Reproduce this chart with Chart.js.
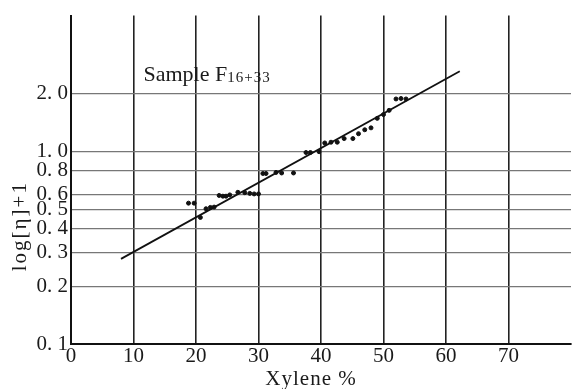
<!DOCTYPE html>
<html>
<head>
<meta charset="utf-8">
<script src="https://cdn.jsdelivr.net/npm/chart.js@4.4.1/dist/chart.umd.min.js"></script>
<style>
  body { margin: 0; background: #fff; }
  #wrap { width: 574px; height: 389px; }
</style>
</head>
<body>
<div id="wrap"><canvas id="viscChart" width="574" height="389"></canvas></div>
<script>
// measured points (xylene %, log[eta]+1)
var xylene = [18.8, 19.7, 20.7, 21.6, 22.3, 22.9, 23.7, 24.3, 24.8, 25.4, 26.7, 27.8, 28.6, 29.3, 30.0,
              30.7, 31.2, 32.8, 33.7, 35.6, 37.6, 38.3, 39.7, 40.6, 41.6, 42.6, 43.7, 45.1, 46.0, 47.0,
              48.0, 49.0, 50.0, 50.9, 52.0, 52.8, 53.6];
var viscosity = [0.54, 0.54, 0.455, 0.505, 0.513, 0.515, 0.592, 0.587, 0.587, 0.596, 0.615, 0.612, 0.607, 0.603, 0.603,
                 0.77, 0.77, 0.78, 0.775, 0.775, 0.99, 0.99, 1.0, 1.11, 1.12, 1.12, 1.17, 1.17, 1.24, 1.30,
                 1.33, 1.49, 1.56, 1.64, 1.88, 1.89, 1.88];

// straight fitted line, end points
var fitX = [8.0, 62.2];
var fitY = [0.277, 2.62];

var yTickValues = [0.1, 0.2, 0.3, 0.4, 0.5, 0.6, 0.8, 1.0, 2.0];
var xTickMaxLabel = 70;

var serif = "'Liberation Serif', 'DejaVu Serif', serif";

var textPlugin = {
    id: 'oldPrintText',
    afterDraw: function(chart) {
        var ctx = chart.ctx;
        var xs = chart.scales.x, ys = chart.scales.y;
        ctx.save();
        ctx.fillStyle = '#1a1a1a';

        // sample label
        var sx = xs.getPixelForValue(11.6), sy = ys.getPixelForValue(2.32);
        ctx.font = '22px ' + serif;
        ctx.textAlign = 'left';
        ctx.textBaseline = 'alphabetic';
        ctx.fillText('Sample F', sx, sy);
        var w = ctx.measureText('Sample F').width;
        ctx.font = '15px ' + serif;
        ctx.letterSpacing = '1px';
        ctx.fillText('16+33', sx + w, sy + 1);
        ctx.letterSpacing = '0px';

        // x title
        ctx.font = '21px ' + serif;
        ctx.textAlign = 'center';
        ctx.textBaseline = 'middle';
        ctx.letterSpacing = '1px';
        ctx.fillText('Xylene %', xs.getPixelForValue(38.4), 379);

        // y title
        ctx.translate(20, ys.getPixelForValue(0.41));
        ctx.rotate(-Math.PI / 2);
        ctx.font = '21px ' + serif;
        ctx.letterSpacing = '2px';
        ctx.fillText('log[\u03b7]+1', 0, 0);
        ctx.restore();
    }
};

var ctx = document.getElementById('viscChart').getContext('2d');
var pts = xylene.map(function(x, i) { return { x: x, y: viscosity[i] }; });
var fit = fitX.map(function(x, i) { return { x: x, y: fitY[i] }; });

var viscChart = new Chart(ctx, {
    type: 'scatter',
    data: {
        datasets: [{
            label: 'data',
            data: pts,
            backgroundColor: '#111',
            borderColor: '#111',
            pointRadius: 2,
            pointHoverRadius: 2
        }, {
            label: 'fit',
            data: fit,
            showLine: true,
            borderColor: '#111',
            borderWidth: 1.8,
            pointRadius: 0,
            fill: false
        }]
    },
    options: {
        responsive: false,
        animation: false,
        layout: { padding: { top: 13, right: 0, left: 0, bottom: 0 } },
        plugins: {
            legend: { display: false },
            tooltip: { enabled: false }
        },
        scales: {
            x: {
                type: 'linear',
                min: 0,
                max: 80,
                afterFit: function(scale) { scale.height = 45; },
                grid: {
                    drawTicks: false,
                    color: function(c) { return c.tick && c.tick.value > xTickMaxLabel ? 'rgba(0,0,0,0)' : '#222'; },
                    lineWidth: 1.6
                },
                border: { color: '#111', width: 2 },
                ticks: {
                    stepSize: 10,
                    padding: 0,
                    color: '#1a1a1a',
                    font: { family: serif, size: 21 },
                    callback: function(v) { return v > xTickMaxLabel ? '' : v; }
                }
            },
            y: {
                type: 'logarithmic',
                min: 0.1,
                max: 5.1,
                afterFit: function(scale) { scale.width = 71; },
                afterBuildTicks: function(scale) {
                    scale.ticks = yTickValues.map(function(v) { return { value: v }; });
                },
                grid: {
                    drawTicks: false,
                    color: '#777',
                    lineWidth: 1.2
                },
                border: { color: '#111', width: 2 },
                ticks: {
                    autoSkip: false,
                    padding: 3,
                    color: '#1a1a1a',
                    font: { family: serif, size: 21 },
                    callback: function(v) { return Number(v).toFixed(1).replace('.', '. '); }
                }
            }
        }
    },
    plugins: [textPlugin]
});
</script>
</body>
</html>
